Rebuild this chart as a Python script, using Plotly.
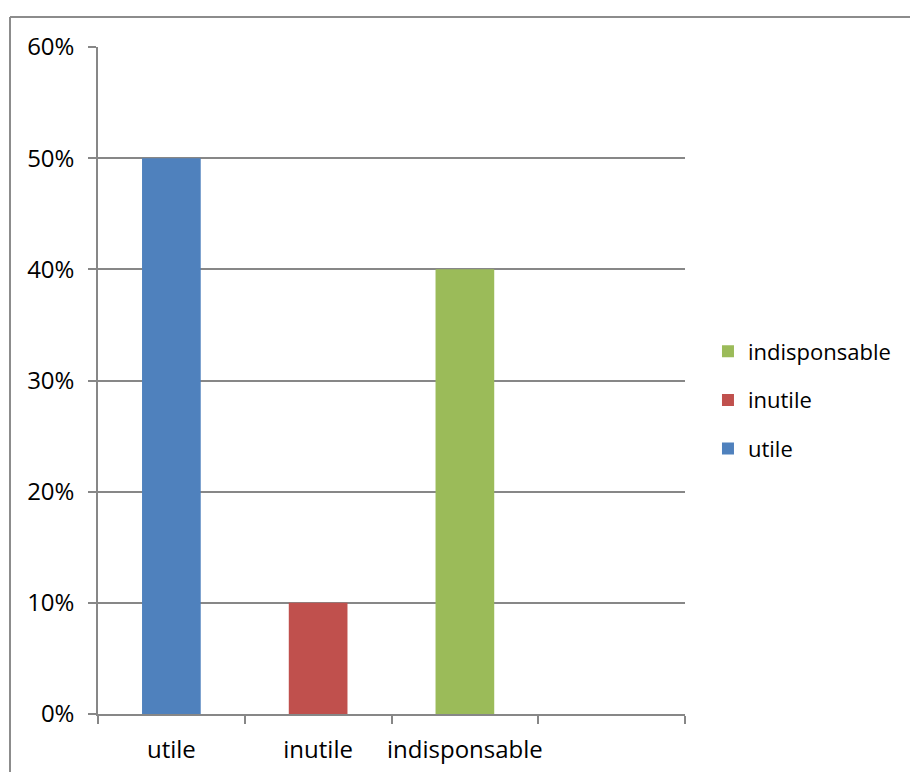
import plotly.graph_objects as go

categories = ["utile", "inutile", "indisponsable", " "]
series_names = ["utile", "inutile", "indisponsable"]
values = [0.50, 0.10, 0.40]
colors = ["#4F81BD", "#C0504D", "#9BBB59"]
y_ticks = [0, 0.1, 0.2, 0.3, 0.4, 0.5, 0.6]

FONT = "Open Sans"
GRID = "#878787"

fig = go.Figure()
# legend lists the series in reverse order (indisponsable first)
for name, val, col in reversed(list(zip(series_names, values, colors))):
    fig.add_trace(go.Bar(
        x=[name], y=[val], name=name, marker_color=col,
        marker_line_width=0, width=0.4, legendgroup=name,
    ))

fig.update_layout(
    width=910, height=772,
    margin=dict(l=98, r=225, t=47, b=58, autoexpand=False),
    paper_bgcolor="white", plot_bgcolor="white",
    barmode="relative",
    font=dict(family=FONT, size=24, color="#000000"),
    showlegend=True,
    legend=dict(
        xref="container", yref="container",
        x=0.778, y=1 - 400 / 772, xanchor="left", yanchor="middle",
        traceorder="grouped", tracegroupgap=17,
        font=dict(family=FONT, size=22),
        bgcolor="rgba(0,0,0,0)",
    ),
    xaxis=dict(
        type="category", categoryorder="array", categoryarray=categories,
        range=[-0.5, 3.5], tickson="boundaries", ticks="outside", ticklen=8,
        tickwidth=1.5, tickcolor=GRID, showline=True, linecolor=GRID, linewidth=1.5,
        showgrid=False, ticklabelstandoff=13, tickangle=0, automargin=False,
    ),
    yaxis=dict(
        range=[0, 0.6], tickvals=y_ticks, tickformat=".0%",
        ticks="outside", ticklen=8, tickwidth=1.5, tickcolor=GRID,
        showline=True, linecolor=GRID, linewidth=1.5,
        showgrid=True, gridcolor=GRID, gridwidth=1.5, zeroline=False,
        ticklabelstandoff=9, automargin=False,
    ),
    shapes=[
        dict(type="line", xref="paper", yref="paper",
             x0=(10 - 98) / 587, x1=(912 - 98) / 587,
             y0=1 + 30 / 667, y1=1 + 30 / 667,
             line=dict(color="#8c8c8c", width=2)),
        dict(type="line", xref="paper", yref="paper",
             x0=(10 - 98) / 587, x1=(10 - 98) / 587,
             y0=1 + 30 / 667, y1=-0.2,
             line=dict(color="#8c8c8c", width=2)),
    ],
)

fig.write_html("out.html")
